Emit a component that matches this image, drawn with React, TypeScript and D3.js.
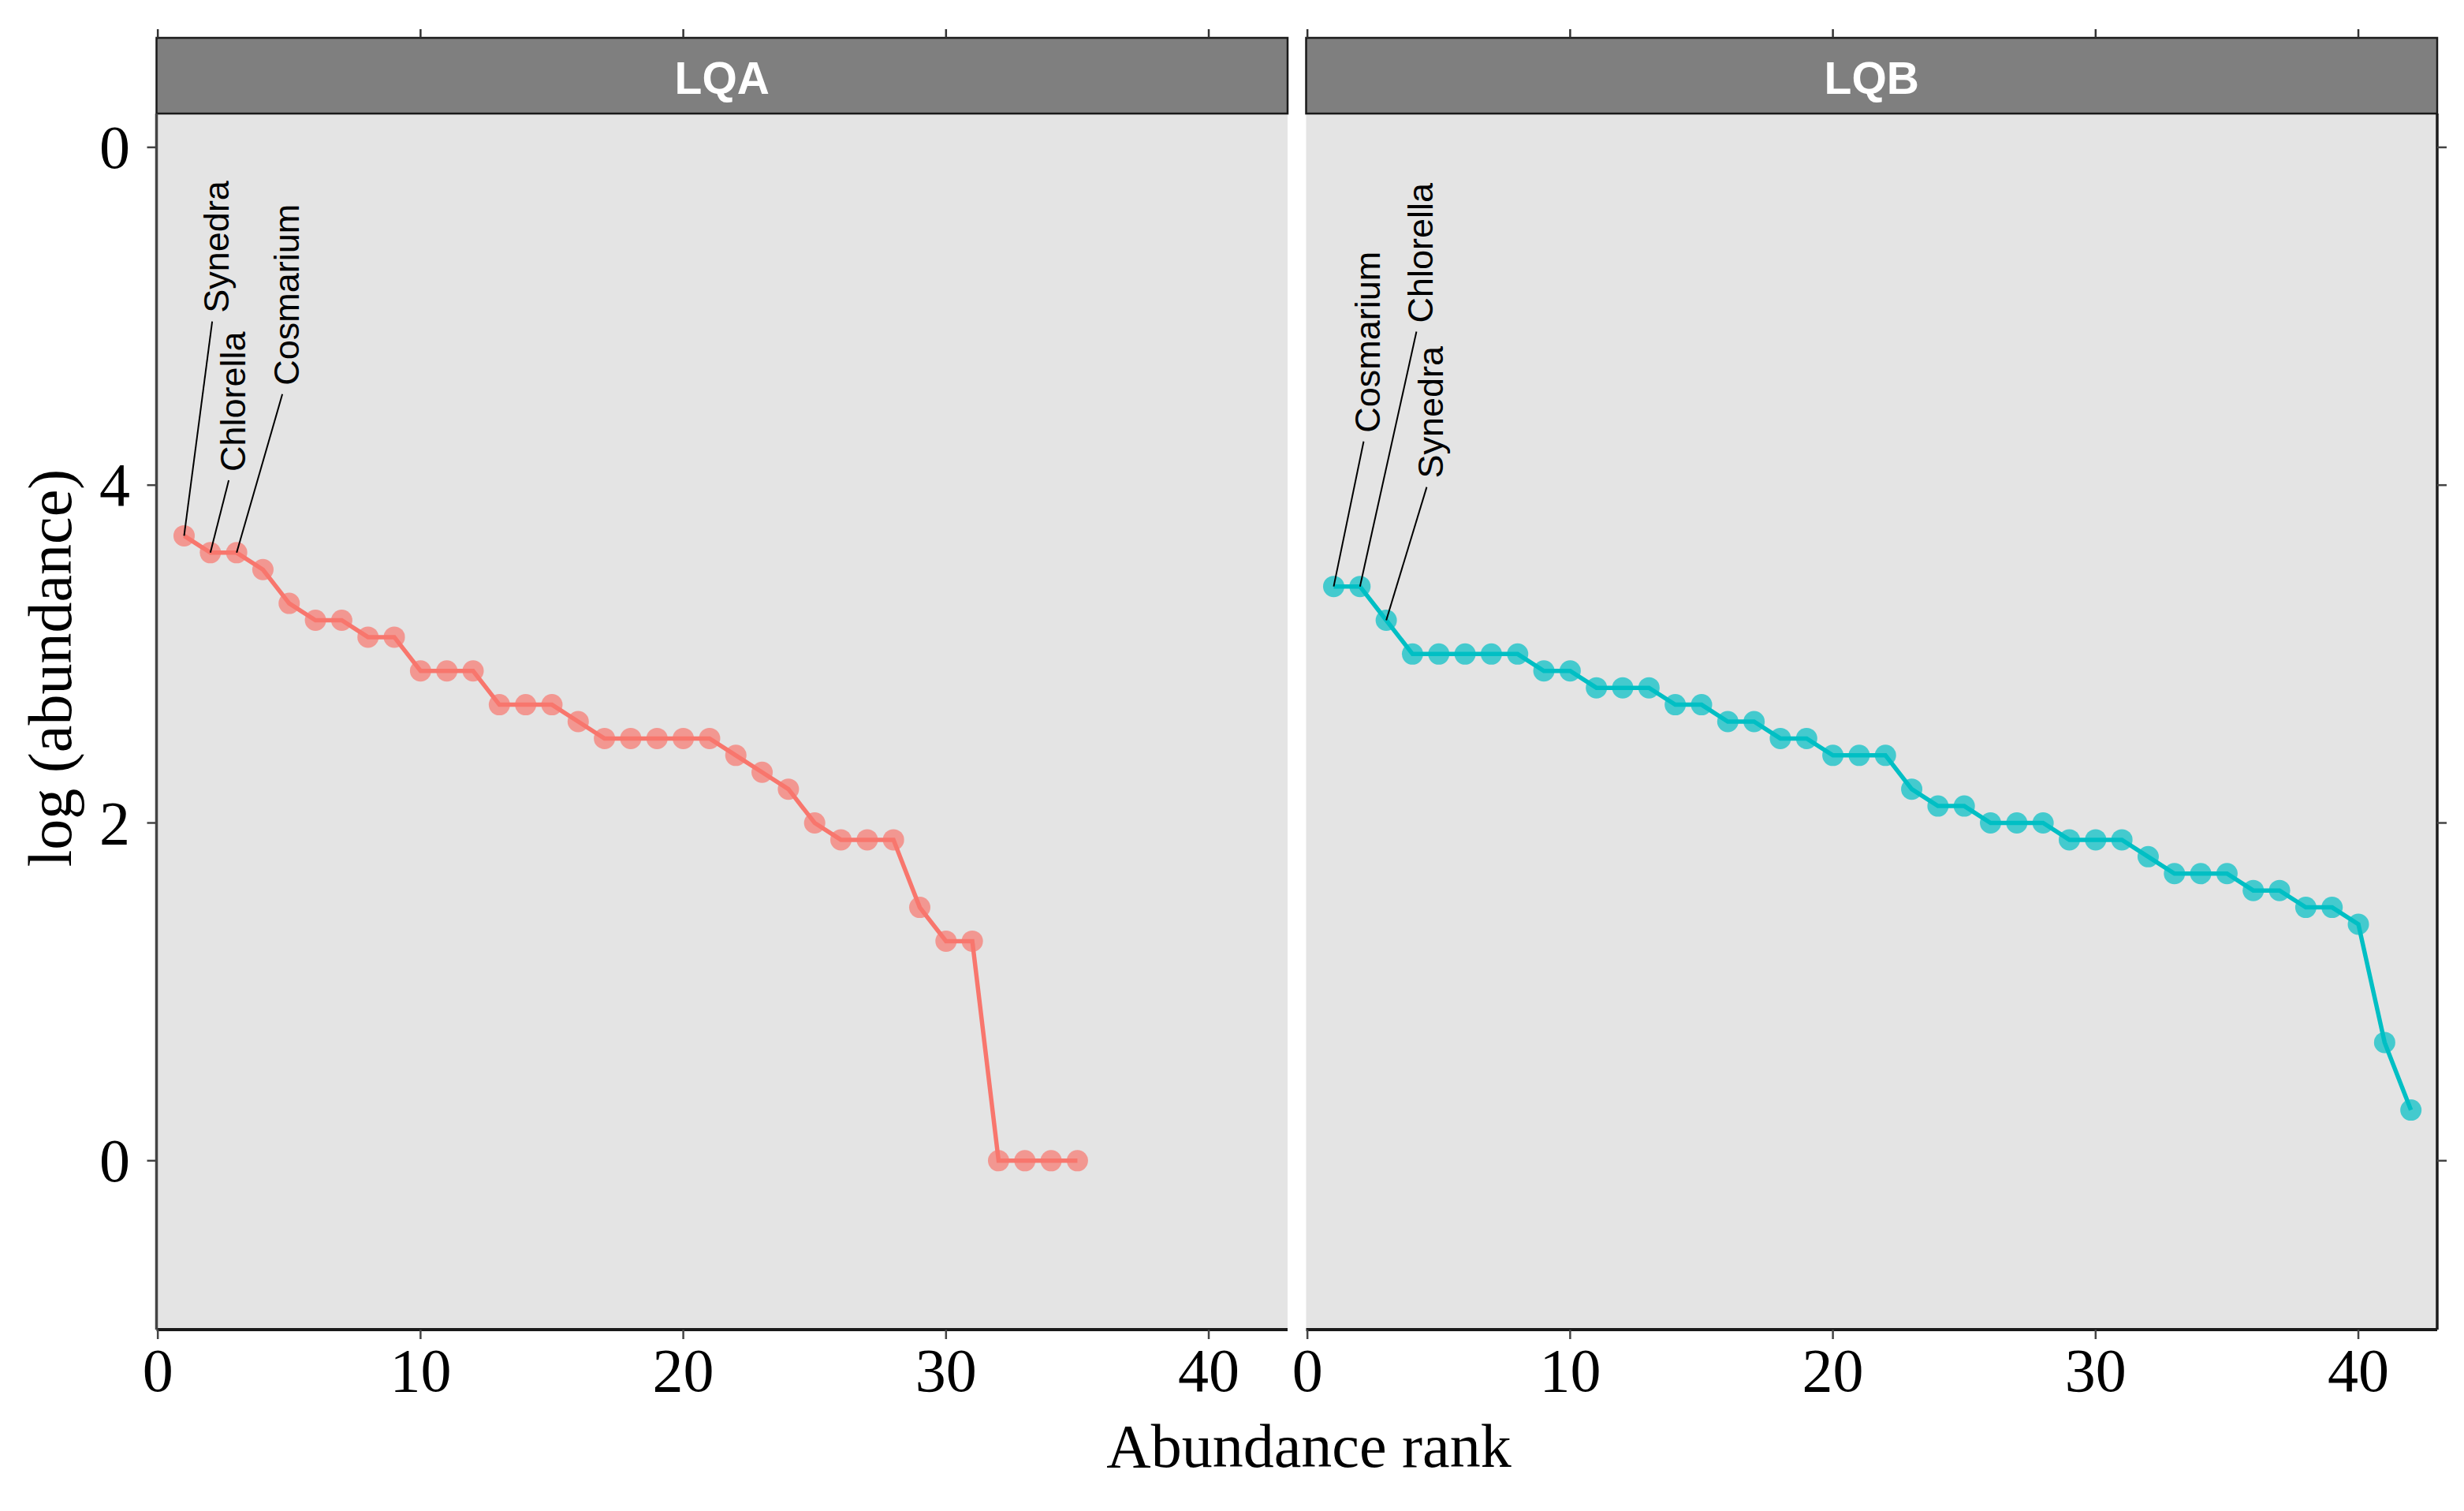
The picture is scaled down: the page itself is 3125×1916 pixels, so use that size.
import React from 'react';
import * as d3 from 'd3';

const panelNames = ['LQA', 'LQB'];
const valuesLQA = [3.7, 3.6, 3.6, 3.5, 3.3, 3.2, 3.2, 3.1, 3.1, 2.9, 2.9, 2.9, 2.7, 2.7, 2.7, 2.6, 2.5, 2.5, 2.5, 2.5, 2.5, 2.4, 2.3, 2.2, 2.0, 1.9, 1.9, 1.9, 1.5, 1.3, 1.3, 0, 0, 0, 0];
const valuesLQB = [3.4, 3.4, 3.2, 3.0, 3.0, 3.0, 3.0, 3.0, 2.9, 2.9, 2.8, 2.8, 2.8, 2.7, 2.7, 2.6, 2.6, 2.5, 2.5, 2.4, 2.4, 2.4, 2.2, 2.1, 2.1, 2.0, 2.0, 2.0, 1.9, 1.9, 1.9, 1.8, 1.7, 1.7, 1.7, 1.6, 1.6, 1.5, 1.5, 1.4, 0.7, 0.3];
const labelTaxaLQA = ['Synedra', 'Chlorella', 'Cosmarium'];
const labelRanksLQA = [1, 2, 3];
const labelTaxaLQB = ['Cosmarium', 'Chlorella', 'Synedra'];
const labelRanksLQB = [1, 2, 3];
// label placement (data units): baseline x, start y of rotated text
const labelPosLQA = [[2.7, 5.02], [3.33, 4.08], [5.37, 4.59]];
const labelPosLQB = [[2.77, 4.31], [4.78, 4.96], [5.17, 4.04]];
const xTicks = [0, 10, 20, 30, 40];
const yTicks = [0, 2, 4, 6];
const yTickLabels = ['0', '2', '4', '0'];
const seriesColors = ['#F8766D', '#00BFC4'];
const xTitle = 'Abundance rank';
const yTitle = 'log (abundance)';

const W = 3125, H = 1916;
const panelTop = 144, panelBottom = 1686;
const stripTop = 48;
const panelLefts = [198.5, 1656.5];
const panelW = 1434.5;
const serif = '"Liberation Serif", "Times New Roman", serif';
const sans = '"Liberation Sans", Arial, sans-serif';

export default function App() {
  const y = d3.scaleLinear().domain([-1.0, 6.2]).range([panelBottom, panelTop]);
  const seriesList = [valuesLQA, valuesLQB];
  const labelTaxa = [labelTaxaLQA, labelTaxaLQB];
  const labelRanks = [labelRanksLQA, labelRanksLQB];
  const labelPos = [labelPosLQA, labelPosLQB];
  const fsLabel = 45;

  return (
    <svg width={W} height={H} style={{ position: 'absolute', left: 0, top: 0, background: '#fff' }}>
      <rect x={0} y={0} width={W} height={H} fill="#fff" />
      {panelNames.map((name, pi) => {
        const x0 = panelLefts[pi];
        const x = d3.scaleLinear().domain([-0.05, 43.0]).range([x0, x0 + panelW]);
        const vals = seriesList[pi];
        const pts = vals.map((v, i) => [x(i + 1), y(v)] as [number, number]);
        const line = d3.line()(pts) || '';
        const color = seriesColors[pi];
        return (
          <g key={name}>
            <rect x={x0} y={panelTop} width={panelW} height={panelBottom - panelTop} fill="#E4E4E4" />
            <rect x={x0} y={stripTop} width={panelW} height={panelTop - stripTop} fill="#7F7F7F" stroke="#1a1a1a" strokeWidth={2.5} />
            <text x={x0 + panelW / 2} y={119} textAnchor="middle" fontFamily={sans} fontWeight="bold" fontSize={57} fill="#fff">{name}</text>
            {/* top ticks */}
            {xTicks.map(t => (
              <line key={'tt' + t} x1={x(t)} x2={x(t)} y1={37} y2={stripTop} stroke="#333" strokeWidth={2.5} />
            ))}
            {/* bottom axis */}
            <line x1={x0} x2={x0 + panelW} y1={panelBottom} y2={panelBottom} stroke="#1a1a1a" strokeWidth={4} />
            {xTicks.map(t => (
              <g key={'bt' + t}>
                <line x1={x(t)} x2={x(t)} y1={panelBottom} y2={panelBottom + 12} stroke="#444" strokeWidth={2.5} />
                <text x={x(t)} y={1764} textAnchor="middle" fontFamily={serif} fontSize={78} fill="#000">{t}</text>
              </g>
            ))}
            {pi === 0 && (
              <g>
                <line x1={x0} x2={x0} y1={panelTop} y2={panelBottom} stroke="#444" strokeWidth={3.5} />
                {yTicks.map((t, k) => (
                  <g key={'yt' + t}>
                    <line x1={x0 - 12} x2={x0} y1={y(t)} y2={y(t)} stroke="#444" strokeWidth={2.5} />
                    <text x={165} y={y(t) + 26} textAnchor="end" fontFamily={serif} fontSize={78} fill="#000">{yTickLabels[k]}</text>
                  </g>
                ))}
              </g>
            )}
            {pi === 1 && (
              <g>
                <line x1={x0 + panelW} x2={x0 + panelW} y1={panelTop} y2={panelBottom} stroke="#1a1a1a" strokeWidth={3.5} />
                {yTicks.map(t => (
                  <line key={'rt' + t} x1={x0 + panelW} x2={x0 + panelW + 12} y1={y(t)} y2={y(t)} stroke="#444" strokeWidth={2.5} />
                ))}
              </g>
            )}
            {/* series */}
            <path d={line} fill="none" stroke={color} strokeWidth={5.5} />
            {pts.map((p, i) => (
              <circle key={i} cx={p[0]} cy={p[1]} r={13.5} fill={color} fillOpacity={0.7} />
            ))}
            {/* labels */}
            {labelTaxa[pi].map((taxon, k) => {
              const r = labelRanks[pi][k];
              const [lx, ly] = labelPos[pi][k];
              const bx = x(lx), by = y(ly);
              const px = x(r), py = y(vals[r - 1]);
              return (
                <g key={taxon}>
                  <line x1={px} y1={py} x2={bx - 21} y2={by + 11} stroke="#000" strokeWidth={2} />
                  <text transform={`translate(${bx},${by}) rotate(-90)`} fontFamily={sans} fontSize={fsLabel} fill="#000">{taxon}</text>
                </g>
              );
            })}
          </g>
        );
      })}
      <text x={1660} y={1860} textAnchor="middle" fontFamily={serif} fontSize={78} fill="#000">{xTitle}</text>
      <text transform={`translate(90,847) rotate(-90)`} textAnchor="middle" fontFamily={serif} fontSize={78} fill="#000">{yTitle}</text>
    </svg>
  );
}
